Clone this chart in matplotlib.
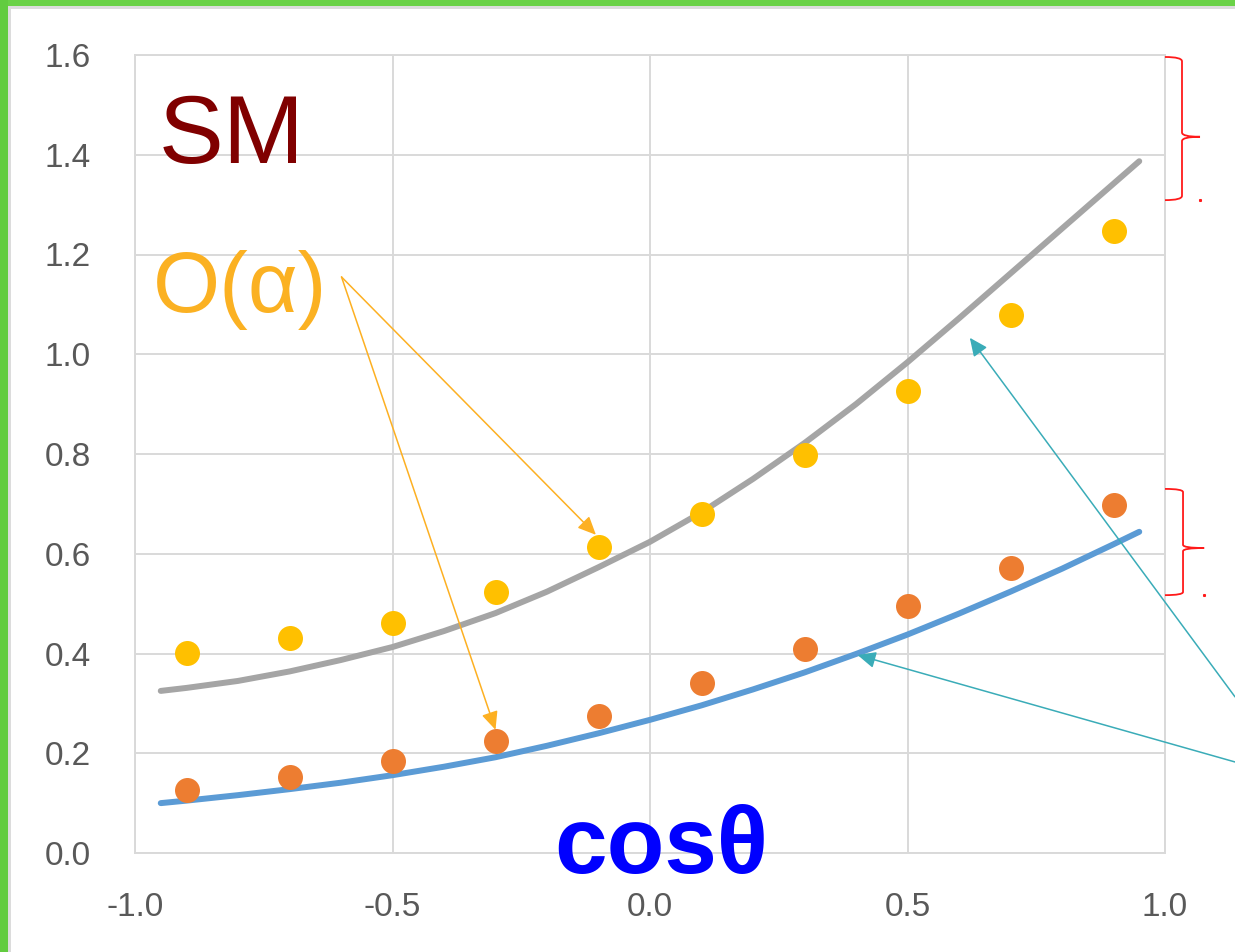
import matplotlib
matplotlib.use("Agg")
import matplotlib.pyplot as plt
from matplotlib import font_manager
from matplotlib.patches import Rectangle, PathPatch
from matplotlib.path import Path

# ---- data ----
cos_theta = [-0.9, -0.7, -0.5, -0.3, -0.1, 0.1, 0.3, 0.5, 0.7, 0.9]
order_alpha_upper = [0.401, 0.431, 0.461, 0.523, 0.614, 0.680, 0.798, 0.926, 1.079, 1.247]
order_alpha_lower = [0.126, 0.152, 0.184, 0.225, 0.275, 0.341, 0.409, 0.495, 0.571, 0.698]

curve_x = [-0.95, -0.9, -0.8, -0.7, -0.6, -0.5, -0.4, -0.3, -0.2, -0.1, 0.0,
           0.1, 0.2, 0.3, 0.4, 0.5, 0.6, 0.7, 0.8, 0.9, 0.95]
sm_upper = [0.325, 0.331, 0.345, 0.364, 0.387, 0.413, 0.445, 0.481, 0.524, 0.573, 0.624,
            0.683, 0.750, 0.822, 0.900, 0.984, 1.072, 1.162, 1.252, 1.342, 1.387]
sm_lower = [0.100, 0.105, 0.116, 0.128, 0.141, 0.156, 0.173, 0.192, 0.215, 0.240, 0.267,
            0.296, 0.328, 0.362, 0.399, 0.438, 0.480, 0.524, 0.570, 0.619, 0.644]

x_ticks = [-1.0, -0.5, 0.0, 0.5, 1.0]
x_tick_labels = ["-1.0", "-0.5", "0.0", "0.5", "1.0"]
y_ticks = [0.0, 0.2, 0.4, 0.6, 0.8, 1.0, 1.2, 1.4, 1.6]
y_tick_labels = ["0.0", "0.2", "0.4", "0.6", "0.8", "1.0", "1.2", "1.4", "1.6"]

# ---- fonts ----
installed = {f.name for f in font_manager.fontManager.ttflist}
narrow = "Liberation Sans Narrow" if "Liberation Sans Narrow" in installed else "Liberation Sans"
fam = [narrow, "DejaVu Sans"]

W, H, DPI = 1235, 952, 100
fig = plt.figure(figsize=(W / DPI, H / DPI), dpi=DPI)
fig.patch.set_facecolor("white")

# green frame on top and left edges
fig.add_artist(Rectangle((0, 1 - 6 / H), 1, 6 / H, transform=fig.transFigure,
                         facecolor="#6AD247", edgecolor="none", zorder=10))
fig.add_artist(Rectangle((0, 1 - 9 / H), 1, 3 / H, transform=fig.transFigure,
                         facecolor="#DCDCDC", edgecolor="none", zorder=9))
fig.add_artist(Rectangle((0, 0), 8 / W, 1, transform=fig.transFigure,
                         facecolor="#62CC40", edgecolor="none", zorder=10))
fig.add_artist(Rectangle((8 / W, 0), 3 / W, 1 - 6 / H, transform=fig.transFigure,
                         facecolor="#DCDCDC", edgecolor="none", zorder=9))

ax = fig.add_axes([135 / W, 99 / H, 1030 / W, 798 / H])
ax.set_xlim(-1.0, 1.0)
ax.set_ylim(0.0, 1.6)

grid_c = "#D9D9D9"
ax.set_xticks(x_ticks)
ax.set_xticklabels(x_tick_labels)
ax.set_yticks(y_ticks)
ax.set_yticklabels(y_tick_labels)
ax.grid(True, color=grid_c, linewidth=1.4, zorder=0)
for s in ax.spines.values():
    s.set_color(grid_c)
    s.set_linewidth(1.4)
ax.tick_params(length=0, colors="#595959", labelsize=24)
ax.tick_params(axis="y", pad=32)
ax.tick_params(axis="x", pad=28)
for lab in ax.get_xticklabels() + ax.get_yticklabels():
    lab.set_family(fam)
    lab.set_color("#595959")

# SM curves
ax.plot(curve_x, sm_upper, color="#A5A5A5", linewidth=4.3, solid_capstyle="round",
        solid_joinstyle="round", zorder=3)
ax.plot(curve_x, sm_lower, color="#5B9BD5", linewidth=4.3, solid_capstyle="round",
        solid_joinstyle="round", zorder=3)

# O(alpha) points
ax.plot(cos_theta, order_alpha_upper, "o", color="#FFC000", markersize=18,
        markeredgewidth=0, zorder=4)
ax.plot(cos_theta, order_alpha_lower, "o", color="#ED7D31", markersize=18,
        markeredgewidth=0, zorder=4)

# labels
ax.text(-0.812, 1.384, "SM", color="#800000", fontsize=70, family=fam,
        ha="center", va="baseline", zorder=6)
ax.text(-0.965, 1.085, "O(α)", color="#FBB122", fontsize=62, family=fam,
        ha="left", va="baseline", zorder=6)
ax.text(0.021, -0.040, "cosθ", color="#0000FF", fontsize=68, family=fam,
        fontweight="bold", ha="center", va="baseline", zorder=6, clip_on=False)

# arrows
def arrow(x0, y0, x1, y1, color):
    ax.annotate("", xy=(x1, y1), xytext=(x0, y0),
                arrowprops=dict(arrowstyle="-|>,head_length=0.55,head_width=0.25",
                                color=color, linewidth=1.1, mutation_scale=20,
                                shrinkA=0, shrinkB=0),
                annotation_clip=False, zorder=5)

arrow(-0.599, 1.155, -0.105, 0.638, "#FDB022")
arrow(-0.599, 1.155, -0.300, 0.247, "#FDB022")
arrow(1.136, 0.313, 0.621, 1.033, "#3AACB8")
arrow(1.136, 0.1825, 0.403, 0.397, "#3AACB8")

# red braces on the right
def brace(y_top, y_bot, y_tip, x_in, x_v, x_tip):
    dy = (y_top - y_bot) * 0.03
    verts = [
        (x_in, y_top), (x_v, y_top), (x_v, y_top - dy),
        (x_v, y_tip + dy),
        (x_v, y_tip), (x_tip, y_tip), (x_tip, y_tip),
        (x_v, y_tip), (x_v, y_tip - dy),
        (x_v, y_bot + dy),
        (x_v, y_bot), (x_in, y_bot), (x_in, y_bot),
    ]
    codes = [Path.MOVETO, Path.CURVE3, Path.CURVE3,
             Path.LINETO,
             Path.CURVE3, Path.CURVE3, Path.MOVETO,
             Path.CURVE3, Path.CURVE3,
             Path.LINETO,
             Path.CURVE3, Path.CURVE3, Path.LINETO]
    p = PathPatch(Path(verts, codes), facecolor="none", edgecolor="#FF1A1A",
                  linewidth=1.3, clip_on=False, zorder=5)
    ax.add_patch(p)
    ax.plot([x_tip], [y_bot], marker="s", markersize=1.2, color="#FF1A1A",
            clip_on=False, zorder=5)

brace(1.596, 1.309, 1.436, 1.0, 1.033, 1.068)
brace(0.730, 0.517, 0.6115, 1.0, 1.035, 1.076)

fig.savefig("out.png", dpi=DPI)
